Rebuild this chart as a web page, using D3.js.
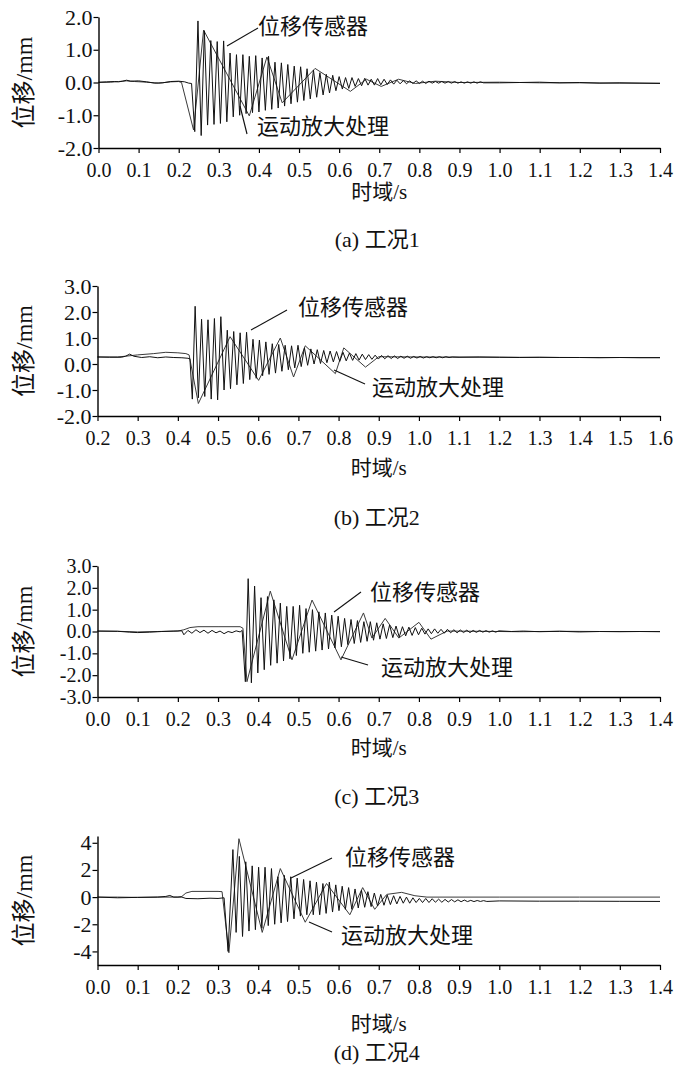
<!DOCTYPE html>
<html><head><meta charset="utf-8">
<script src="https://cdn.jsdelivr.net/npm/d3@7"></script>
<style>
body{margin:0;background:#fff}
text{font-family:"Liberation Serif","Noto Sans CJK SC",serif;fill:#111}
.cjk{font-family:"Noto Sans CJK SC","Liberation Serif",sans-serif}
</style>
</head><body>
<svg id="chart" width="700" height="1069"></svg>
<script>
// ---------- DATA ----------
const seriesNames = ["位移传感器", "运动放大处理"];
const captions = ["(a) 工况1", "(b) 工况2", "(c) 工况3", "(d) 工况4"];
const xTitle = "时域/s";
const yTitle = "位移/mm";

const xTicksA = [0,0.1,0.2,0.3,0.4,0.5,0.6,0.7,0.8,0.9,1.0,1.1,1.2,1.3,1.4];
const xTicksB = [0.2,0.3,0.4,0.5,0.6,0.7,0.8,0.9,1.0,1.1,1.2,1.3,1.4,1.5,1.6];
const yTicksA = [-2,-1,0,1,2];
const yTicksB = [-2,-1,0,1,2,3];
const yTicksC = [-3,-2,-1,0,1,2,3];
const yTicksD = [-4,-2,0,2,4];

const sensorA = [[0,0.01],[0.02,0.02],[0.04,0.03],[0.05,0.02],[0.06,0.04],[0.07,0.07],[0.08,0.04],[0.1,0.05],[0.12,0.02],[0.14,-0.02],[0.16,-0.01],[0.18,0.03],[0.2,0.04],[0.215,0.02],[0.225,-0.02],[0.232,-0.03],
[0.240,-1.50],[0.248,1.88],[0.256,-1.62],[0.264,1.58],[0.272,-1.30],[0.280,1.28],[0.288,-1.28],[0.296,1.25],[0.304,-1.25],[0.312,1.27],[0.320,-1.20],[0.328,0.90],[0.336,-1.05],[0.344,0.85],[0.352,-1.00],[0.360,0.85],[0.368,-0.95],[0.376,0.80],[0.384,-0.92],[0.392,0.82],[0.400,-0.90],[0.408,0.75],[0.416,-0.85],[0.424,0.80],[0.432,-0.82],[0.440,0.62],[0.448,-0.78],[0.456,0.60],[0.464,-0.72],[0.472,0.55],[0.480,-0.65],[0.488,0.50],[0.496,-0.60],[0.504,0.48],[0.512,-0.55],[0.520,0.42],[0.528,-0.50],[0.536,0.38],[0.544,-0.45],[0.552,0.30],[0.560,-0.38],[0.568,0.25],[0.576,-0.32],[0.584,0.22],[0.592,-0.25],[0.600,0.18],[0.608,-0.20],[0.616,0.15],[0.624,-0.18],[0.632,0.15],[0.640,-0.12],[0.648,0.12],[0.656,-0.10],[0.664,0.13],[0.672,-0.08],[0.680,0.10],[0.688,-0.08],[0.696,0.12],[0.704,-0.07],[0.712,0.10],[0.720,-0.06],[0.728,0.08],[0.736,-0.05],[0.744,0.07],[0.752,-0.04],[0.760,0.06],[0.768,-0.04],[0.776,0.05],[0.784,-0.03],[0.792,0.05],[0.800,-0.03],[0.808,0.04],[0.816,-0.03],[0.824,0.04],[0.832,-0.02],[0.840,0.03],[0.848,-0.02],[0.856,0.03],[0.864,-0.02],[0.872,0.03],[0.880,-0.02],[0.888,0.03],[0.896,-0.02],[0.904,0.02],[0.912,-0.02],[0.920,0.02],[0.928,-0.02],[0.936,0.02],[0.944,-0.02],[0.952,0.02],[0.96,-0.01],
[1.0,-0.01],[1.05,0.0],[1.1,0.01],[1.15,-0.01],[1.2,0.0],[1.25,-0.02],[1.3,-0.01],[1.35,-0.02],[1.4,-0.03]];
const motionA = [[0,0.0],[0.03,0.01],[0.05,0.03],[0.07,0.05],[0.09,0.03],[0.12,0.01],[0.15,-0.02],[0.18,0.02],[0.2,0.03],[0.207,0.0],[0.237,-1.45],[0.262,1.6],[0.376,-1.02],[0.42,0.78],[0.458,-0.62],[0.54,0.43],[0.628,-0.27],[0.668,0.1],[0.705,-0.12],[0.748,0.1],[0.79,-0.03],[0.84,0.04],[0.9,0.0],[1.0,0.01],[1.1,-0.01],[1.2,-0.01],[1.3,-0.02],[1.4,-0.02]];

const sensorB = [[0.2,0.27],[0.23,0.26],[0.26,0.26],[0.27,0.3],[0.28,0.38],[0.29,0.3],[0.31,0.25],[0.33,0.28],[0.35,0.24],[0.37,0.27],[0.39,0.25],[0.41,0.24],[0.425,0.22],[0.43,0.2],
[0.436,-1.35],[0.443,2.22],[0.451,-1.30],[0.459,1.72],[0.467,-1.25],[0.475,1.70],[0.483,-1.35],[0.491,1.75],[0.499,-1.38],[0.507,1.82],[0.515,-1.00],[0.523,1.30],[0.531,-0.95],[0.539,1.25],[0.547,-0.80],[0.555,1.20],[0.563,-0.75],[0.571,1.22],[0.579,-0.60],[0.587,0.95],[0.595,-0.55],[0.603,0.92],[0.611,-0.45],[0.619,0.85],[0.627,-0.40],[0.635,0.78],[0.643,-0.35],[0.651,0.75],[0.659,-0.28],[0.667,0.72],[0.675,-0.22],[0.683,0.70],[0.691,-0.15],[0.699,0.72],[0.707,-0.10],[0.715,0.62],[0.723,-0.05],[0.731,0.58],[0.739,0.0],[0.747,0.55],[0.755,0.02],[0.763,0.52],[0.771,0.05],[0.779,0.50],[0.787,0.08],[0.795,0.48],[0.803,0.10],[0.811,0.45],[0.819,0.12],[0.827,0.42],[0.835,0.14],[0.843,0.40],[0.851,0.15],[0.859,0.38],[0.867,0.17],[0.875,0.36],[0.883,0.18],[0.891,0.34],[0.899,0.19],[0.907,0.33],[0.915,0.2],[0.923,0.32],[0.931,0.21],[0.939,0.31],[0.947,0.21],[0.955,0.30],[0.963,0.22],[0.971,0.30],[0.979,0.22],[0.987,0.29],[0.995,0.23],[1.003,0.29],[1.011,0.23],[1.019,0.28],[1.027,0.24],[1.035,0.28],[1.043,0.24],[1.051,0.28],[1.059,0.24],[1.067,0.28],[1.075,0.25],[1.083,0.27],
[1.1,0.26],[1.15,0.27],[1.2,0.26],[1.25,0.25],[1.3,0.26],[1.35,0.25],[1.4,0.25],[1.45,0.24],[1.5,0.25],[1.55,0.24],[1.6,0.24]];
const motionB = [[0.2,0.27],[0.25,0.27],[0.27,0.3],[0.3,0.35],[0.34,0.4],[0.37,0.45],[0.4,0.43],[0.42,0.4],[0.428,0.35],[0.451,-1.52],[0.53,1.05],[0.601,-0.63],[0.655,1.0],[0.688,-0.5],[0.717,0.7],[0.792,-0.37],[0.813,0.62],[0.867,-0.12],[0.9,0.28],[1.0,0.27],[1.2,0.26],[1.4,0.25],[1.6,0.25]];

const sensorC = [[0,0.02],[0.05,0.01],[0.08,-0.03],[0.1,-0.05],[0.13,-0.03],[0.16,0.0],[0.19,0.02],[0.21,0.03],[0.215,-0.15],[0.225,0.05],[0.235,-0.08],[0.245,0.08],[0.255,-0.05],[0.265,0.06],[0.275,-0.08],[0.285,0.05],[0.295,-0.06],[0.305,0.02],[0.315,-0.1],[0.325,0.0],[0.335,-0.05],[0.345,0.03],[0.355,-0.02],[0.36,0.05],
[0.368,-2.30],[0.375,2.42],[0.383,-2.35],[0.391,2.08],[0.399,-1.90],[0.407,1.55],[0.415,-1.75],[0.423,1.60],[0.431,-1.55],[0.439,1.45],[0.447,-1.45],[0.455,1.30],[0.463,-1.35],[0.471,1.15],[0.479,-1.25],[0.487,1.15],[0.495,-1.10],[0.503,1.20],[0.511,-1.00],[0.519,1.05],[0.527,-0.95],[0.535,1.00],[0.543,-0.90],[0.551,0.90],[0.559,-0.85],[0.567,0.85],[0.575,-0.80],[0.583,0.75],[0.591,-0.75],[0.599,0.70],[0.607,-0.70],[0.615,0.60],[0.623,-0.60],[0.631,0.55],[0.639,-0.55],[0.647,0.50],[0.655,-0.50],[0.663,0.45],[0.671,-0.45],[0.679,0.45],[0.687,-0.40],[0.695,0.40],[0.703,-0.35],[0.711,0.35],[0.719,-0.32],[0.727,0.30],[0.735,-0.28],[0.743,0.25],[0.751,-0.25],[0.759,0.22],[0.767,-0.20],[0.775,0.20],[0.783,-0.18],[0.791,0.18],[0.799,-0.15],[0.807,0.15],[0.815,-0.12],[0.823,0.12],[0.831,-0.10],[0.839,0.12],[0.847,-0.08],[0.855,0.10],[0.863,-0.08],[0.871,0.10],[0.879,-0.06],[0.887,0.08],[0.895,-0.06],[0.903,0.07],[0.911,-0.05],[0.919,0.06],[0.927,-0.05],[0.935,0.05],[0.943,-0.04],[0.951,0.05],[0.959,-0.03],[0.967,0.04],[0.975,-0.03],[0.983,0.03],[0.991,-0.03],[0.999,0.03],
[1.03,0.0],[1.06,0.02],[1.1,-0.01],[1.15,0.01],[1.2,-0.02],[1.25,0.0],[1.3,-0.01],[1.35,0.0],[1.4,-0.01]];
const motionC = [[0,0.02],[0.05,0.01],[0.1,-0.02],[0.15,0.0],[0.2,0.02],[0.215,0.08],[0.23,0.18],[0.25,0.22],[0.3,0.22],[0.355,0.22],[0.362,0.15],[0.372,-2.3],[0.43,1.85],[0.484,-1.3],[0.534,1.44],[0.606,-1.3],[0.662,0.85],[0.683,-0.3],[0.716,0.6],[0.75,-0.3],[0.80,0.42],[0.83,-0.35],[0.87,0.02],[0.95,0.01],[1.05,-0.01],[1.15,0.01],[1.25,0.0],[1.4,0.0]];

const sensorD = [[0,0.0],[0.05,-0.05],[0.1,-0.02],[0.15,0.0],[0.17,0.05],[0.18,0.12],[0.19,0.0],[0.21,0.0],[0.22,-0.1],[0.25,-0.12],[0.28,-0.08],[0.3,-0.1],[0.315,-0.05],
[0.325,-4.0],[0.337,3.5],[0.345,-2.6],[0.353,3.0],[0.361,-2.9],[0.369,2.6],[0.377,-2.5],[0.385,2.3],[0.393,-2.4],[0.401,2.2],[0.409,-2.3],[0.417,2.2],[0.425,-2.1],[0.433,2.1],[0.441,-2.0],[0.449,1.5],[0.457,-1.9],[0.465,1.6],[0.473,-1.8],[0.481,1.5],[0.489,-1.6],[0.497,1.4],[0.505,-1.4],[0.513,1.3],[0.521,-1.3],[0.529,1.2],[0.537,-1.3],[0.545,1.1],[0.553,-1.3],[0.561,1.0],[0.569,-1.2],[0.577,1.1],[0.585,-1.1],[0.593,0.9],[0.601,-1.0],[0.609,0.8],[0.617,-0.9],[0.625,0.7],[0.633,-0.9],[0.641,0.6],[0.649,-0.8],[0.657,0.5],[0.665,-0.75],[0.673,0.4],[0.681,-0.7],[0.689,0.3],[0.697,-0.65],[0.705,0.2],[0.713,-0.6],[0.721,0.15],[0.729,-0.55],[0.737,0.1],[0.745,-0.5],[0.753,0.05],[0.761,-0.45],[0.769,0.0],[0.777,-0.45],[0.785,-0.05],[0.793,-0.4],[0.801,-0.1],[0.809,-0.4],[0.817,-0.1],[0.825,-0.4],[0.833,-0.12],[0.841,-0.38],[0.849,-0.15],[0.857,-0.38],[0.865,-0.17],[0.873,-0.36],[0.881,-0.18],[0.889,-0.35],[0.897,-0.2],[0.905,-0.34],[0.913,-0.22],[0.921,-0.33],[0.929,-0.24],[0.937,-0.33],[0.945,-0.25],[0.953,-0.32],[0.961,-0.26],[0.969,-0.32],
[1.0,-0.28],[1.1,-0.3],[1.2,-0.3],[1.3,-0.31],[1.4,-0.32]];
const motionD = [[0,0.0],[0.05,0.0],[0.1,-0.02],[0.15,0.0],[0.2,0.0],[0.21,0.05],[0.22,0.3],[0.235,0.42],[0.3,0.42],[0.31,0.4],[0.327,-4.1],[0.352,4.3],[0.41,-2.6],[0.455,2.1],[0.517,-1.85],[0.57,1.0],[0.628,-1.3],[0.66,0.7],[0.69,-0.9],[0.72,0.2],[0.757,0.35],[0.79,0.1],[0.82,0.0],[1.0,0.0],[1.2,0.0],[1.4,0.0]];

// ---------- LAYOUT ----------
const panels = [
  {sensor:sensorA, motion:motionA, xDomain:[0,1.4], xTicks:xTicksA, yDomain:[-2,2], yTicks:yTicksA, yMinor:0.2, dec:1, yFont:22,
   xL:98.5, xR:660, yTop:17, yBot:148, titleY:192, capY:239,
   lab1:[258,34], p1:[[258,28],[227,46]], lab2:[257,134], p2:[[247,134],[240,106]]},
  {sensor:sensorB, motion:motionB, xDomain:[0.2,1.6], xTicks:xTicksB, yDomain:[-2,3], yTicks:yTicksB, yMinor:0.2, dec:1, yFont:22,
   xL:97.5, xR:660, yTop:286, yBot:416, titleY:468, capY:517,
   lab1:[298,315], p1:[[287,310],[251,330]], lab2:[372,395], p2:[[365,384],[334,370]]},
  {sensor:sensorC, motion:motionC, xDomain:[0,1.4], xTicks:xTicksA, yDomain:[-3,3], yTicks:yTicksC, yMinor:0.2, dec:1, yFont:20,
   xL:97.5, xR:660, yTop:566, yBot:697, titleY:748, capY:796,
   lab1:[370,600], p1:[[361,592],[334,612]], lab2:[381,675], p2:[[368,665],[341,657]]},
  {sensor:sensorD, motion:motionD, xDomain:[0,1.4], xTicks:xTicksA, yDomain:[-5,4.5], yTicks:yTicksD, yMinor:0.5, dec:0, yFont:22,
   xL:97.5, xR:660, yTop:836, yBot:965, titleY:1024, capY:1052,
   lab1:[345,865], p1:[[332,858],[291,878]], lab2:[341,943], p2:[[332,932],[309,922]]}
];

const svg = d3.select("#chart");
svg.append("rect").attr("width",700).attr("height",1069).attr("fill","#fff");

panels.forEach((p, i) => {
  const x = d3.scaleLinear().domain(p.xDomain).range([p.xL, p.xR]);
  const y = d3.scaleLinear().domain(p.yDomain).range([p.yBot, p.yTop]);
  const line = d3.line().x(d => x(d[0])).y(d => y(d[1]));

  svg.append("path").attr("d", line(p.motion)).attr("fill","none")
    .attr("stroke","#3a3a3a").attr("stroke-width",1).attr("stroke-linejoin","round");
  svg.append("path").attr("d", line(p.sensor)).attr("fill","none")
    .attr("stroke","#111").attr("stroke-width",1).attr("stroke-linejoin","round");

  // minor ticks
  const xMinor = d3.range(Math.round(p.xDomain[0]*20), Math.round(p.xDomain[1]*20)+1).map(k => k/20);
  const yMinor = d3.range(Math.round(p.yDomain[0]/p.yMinor), Math.round(p.yDomain[1]/p.yMinor)+1).map(k => k*p.yMinor);

  const gx = svg.append("g").attr("transform", `translate(0,${p.yBot})`);
  gx.call(d3.axisBottom(x).tickValues(xMinor).tickSize(3).tickSizeOuter(0).tickFormat(""));
  gx.call(d3.axisBottom(x).tickValues(p.xTicks).tickSize(5).tickSizeOuter(0).tickPadding(10)
    .tickFormat(d => d.toFixed(1)));
  gx.selectAll("text").attr("font-size", 20).attr("font-family","Liberation Serif").attr("fill","#111");

  const gy = svg.append("g").attr("transform", `translate(${p.xL},0)`);
  gy.call(d3.axisLeft(y).tickValues(yMinor).tickSize(2.5).tickSizeOuter(0).tickFormat(""));
  gy.call(d3.axisLeft(y).tickValues(p.yTicks).tickSize(5).tickSizeOuter(0).tickPadding(1)
    .tickFormat(d => d.toFixed(p.dec)));
  gy.selectAll("text").attr("font-size", p.yFont).attr("font-family","Liberation Serif").attr("fill","#111");

  svg.selectAll(".domain").attr("stroke","#000").attr("stroke-width",1.4);
  svg.selectAll(".tick line").attr("stroke","#000").attr("stroke-width",1.2);

  // titles
  svg.append("text").attr("x", (p.xL+p.xR)/2).attr("y", p.titleY).attr("dy","0.35em")
    .attr("text-anchor","middle").attr("font-size",21).text(xTitle);
  svg.append("text").attr("x", (p.xL+p.xR)/2 - 2).attr("y", p.capY).attr("dy","0.35em")
    .attr("text-anchor","middle").attr("font-size",22).text(captions[i]);
  svg.append("text").attr("transform", `translate(24,${(p.yTop+p.yBot)/2}) rotate(-90)`)
    .attr("text-anchor","middle").attr("dy","0.35em").attr("font-size",24).text(yTitle);

  // annotations
  svg.append("text").attr("class","cjk").attr("x",p.lab1[0]).attr("y",p.lab1[1])
    .attr("font-size",22).text(seriesNames[0]);
  svg.append("text").attr("class","cjk").attr("x",p.lab2[0]).attr("y",p.lab2[1])
    .attr("font-size",22).text(seriesNames[1]);
  svg.append("path").attr("d", d3.line()(p.p1)).attr("stroke","#111").attr("stroke-width",1.1).attr("fill","none");
  svg.append("path").attr("d", d3.line()(p.p2)).attr("stroke","#111").attr("stroke-width",1.1).attr("fill","none");
});
</script>
</body></html>
